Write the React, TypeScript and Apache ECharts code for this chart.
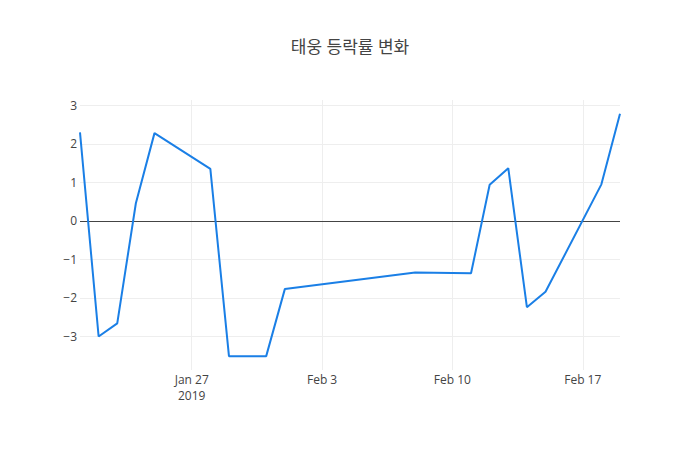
import React, { useEffect, useRef } from "react";
import * as echarts from "echarts";

const title = "태웅 등락률 변화";
const dates = [
  "2019-01-21", "2019-01-22", "2019-01-23", "2019-01-24", "2019-01-25",
  "2019-01-28", "2019-01-29", "2019-01-30", "2019-01-31", "2019-02-01",
  "2019-02-08", "2019-02-11", "2019-02-12", "2019-02-13", "2019-02-14",
  "2019-02-15", "2019-02-18", "2019-02-19",
];
const changes = [
  2.30, -3.00, -2.66, 0.46, 2.28,
  1.35, -3.51, -3.51, -3.51, -1.77,
  -1.34, -1.36, 0.94, 1.37, -2.24,
  -1.84, 0.95, 2.78,
];
const xTickDates = ["2019-01-27", "2019-02-03", "2019-02-10", "2019-02-17"];
const xTickLabels = ["Jan 27\n2019", "Feb 3", "Feb 10", "Feb 17"];
const yTicks = [-3, -2, -1, 0, 1, 2, 3];

const ts = (d: string) => Date.parse(d + "T00:00:00Z");

export default function App() {
  const ref = useRef<HTMLDivElement>(null);
  useEffect(() => {
    if (!ref.current) return;
    document.body.style.margin = "0";
    const chart = echarts.init(ref.current, undefined, { renderer: "svg" });
    const xTicks = xTickDates.map(ts);
    const labelMap: Record<string, string> = {};
    xTicks.forEach((t, i) => (labelMap[String(t)] = xTickLabels[i]));
    const font = '"Open Sans", "Noto Sans CJK KR", sans-serif';
    chart.setOption({
      animation: false,
      backgroundColor: "#fff",
      title: {
        text: title,
        left: "center",
        top: 33,
        textStyle: { fontFamily: font, fontSize: 17, fontWeight: "normal", color: "#444" },
      },
      grid: { left: 80, right: 80, top: 100, bottom: 80, containLabel: false },
      xAxis: {
        type: "value",
        min: ts(dates[0]),
        max: ts(dates[dates.length - 1]),
        axisLine: { show: false },
        axisTick: { show: false, customValues: xTicks },
        axisLabel: {
          customValues: xTicks,
          formatter: (v: number) => labelMap[String(v)] ?? "",
          color: "#444",
          fontFamily: font,
          fontSize: 12,
          lineHeight: 16,
          margin: 1,
        },
        splitLine: { show: true, lineStyle: { color: "#eee", width: 1 } },
      },
      yAxis: {
        type: "value",
        min: -3.87,
        max: 3.14,
        axisLine: { show: false },
        axisTick: { show: false, customValues: yTicks },
        axisLabel: {
          customValues: yTicks,
          formatter: (v: number) => (v < 0 ? "\u2212" + Math.abs(v) : String(v)),
          color: "#444",
          fontFamily: font,
          fontSize: 12,
          margin: 3,
        },
        splitLine: { show: true, lineStyle: { color: "#eee", width: 1 } },
      },
      series: [
        {
          type: "line",
          data: dates.map((d, i) => [ts(d), changes[i]]),
          showSymbol: false,
          symbol: "none",
          lineStyle: { color: "#1a7fe6", width: 2 },
          markLine: {
            silent: true,
            symbol: "none",
            label: { show: false },
            lineStyle: { color: "#444", width: 1, type: "solid" },
            data: [{ yAxis: 0 }],
            z: 1,
          },
        },
      ],
    });
    return () => chart.dispose();
  }, []);
  return <div ref={ref} style={{ width: 700, height: 450 }} />;
}
